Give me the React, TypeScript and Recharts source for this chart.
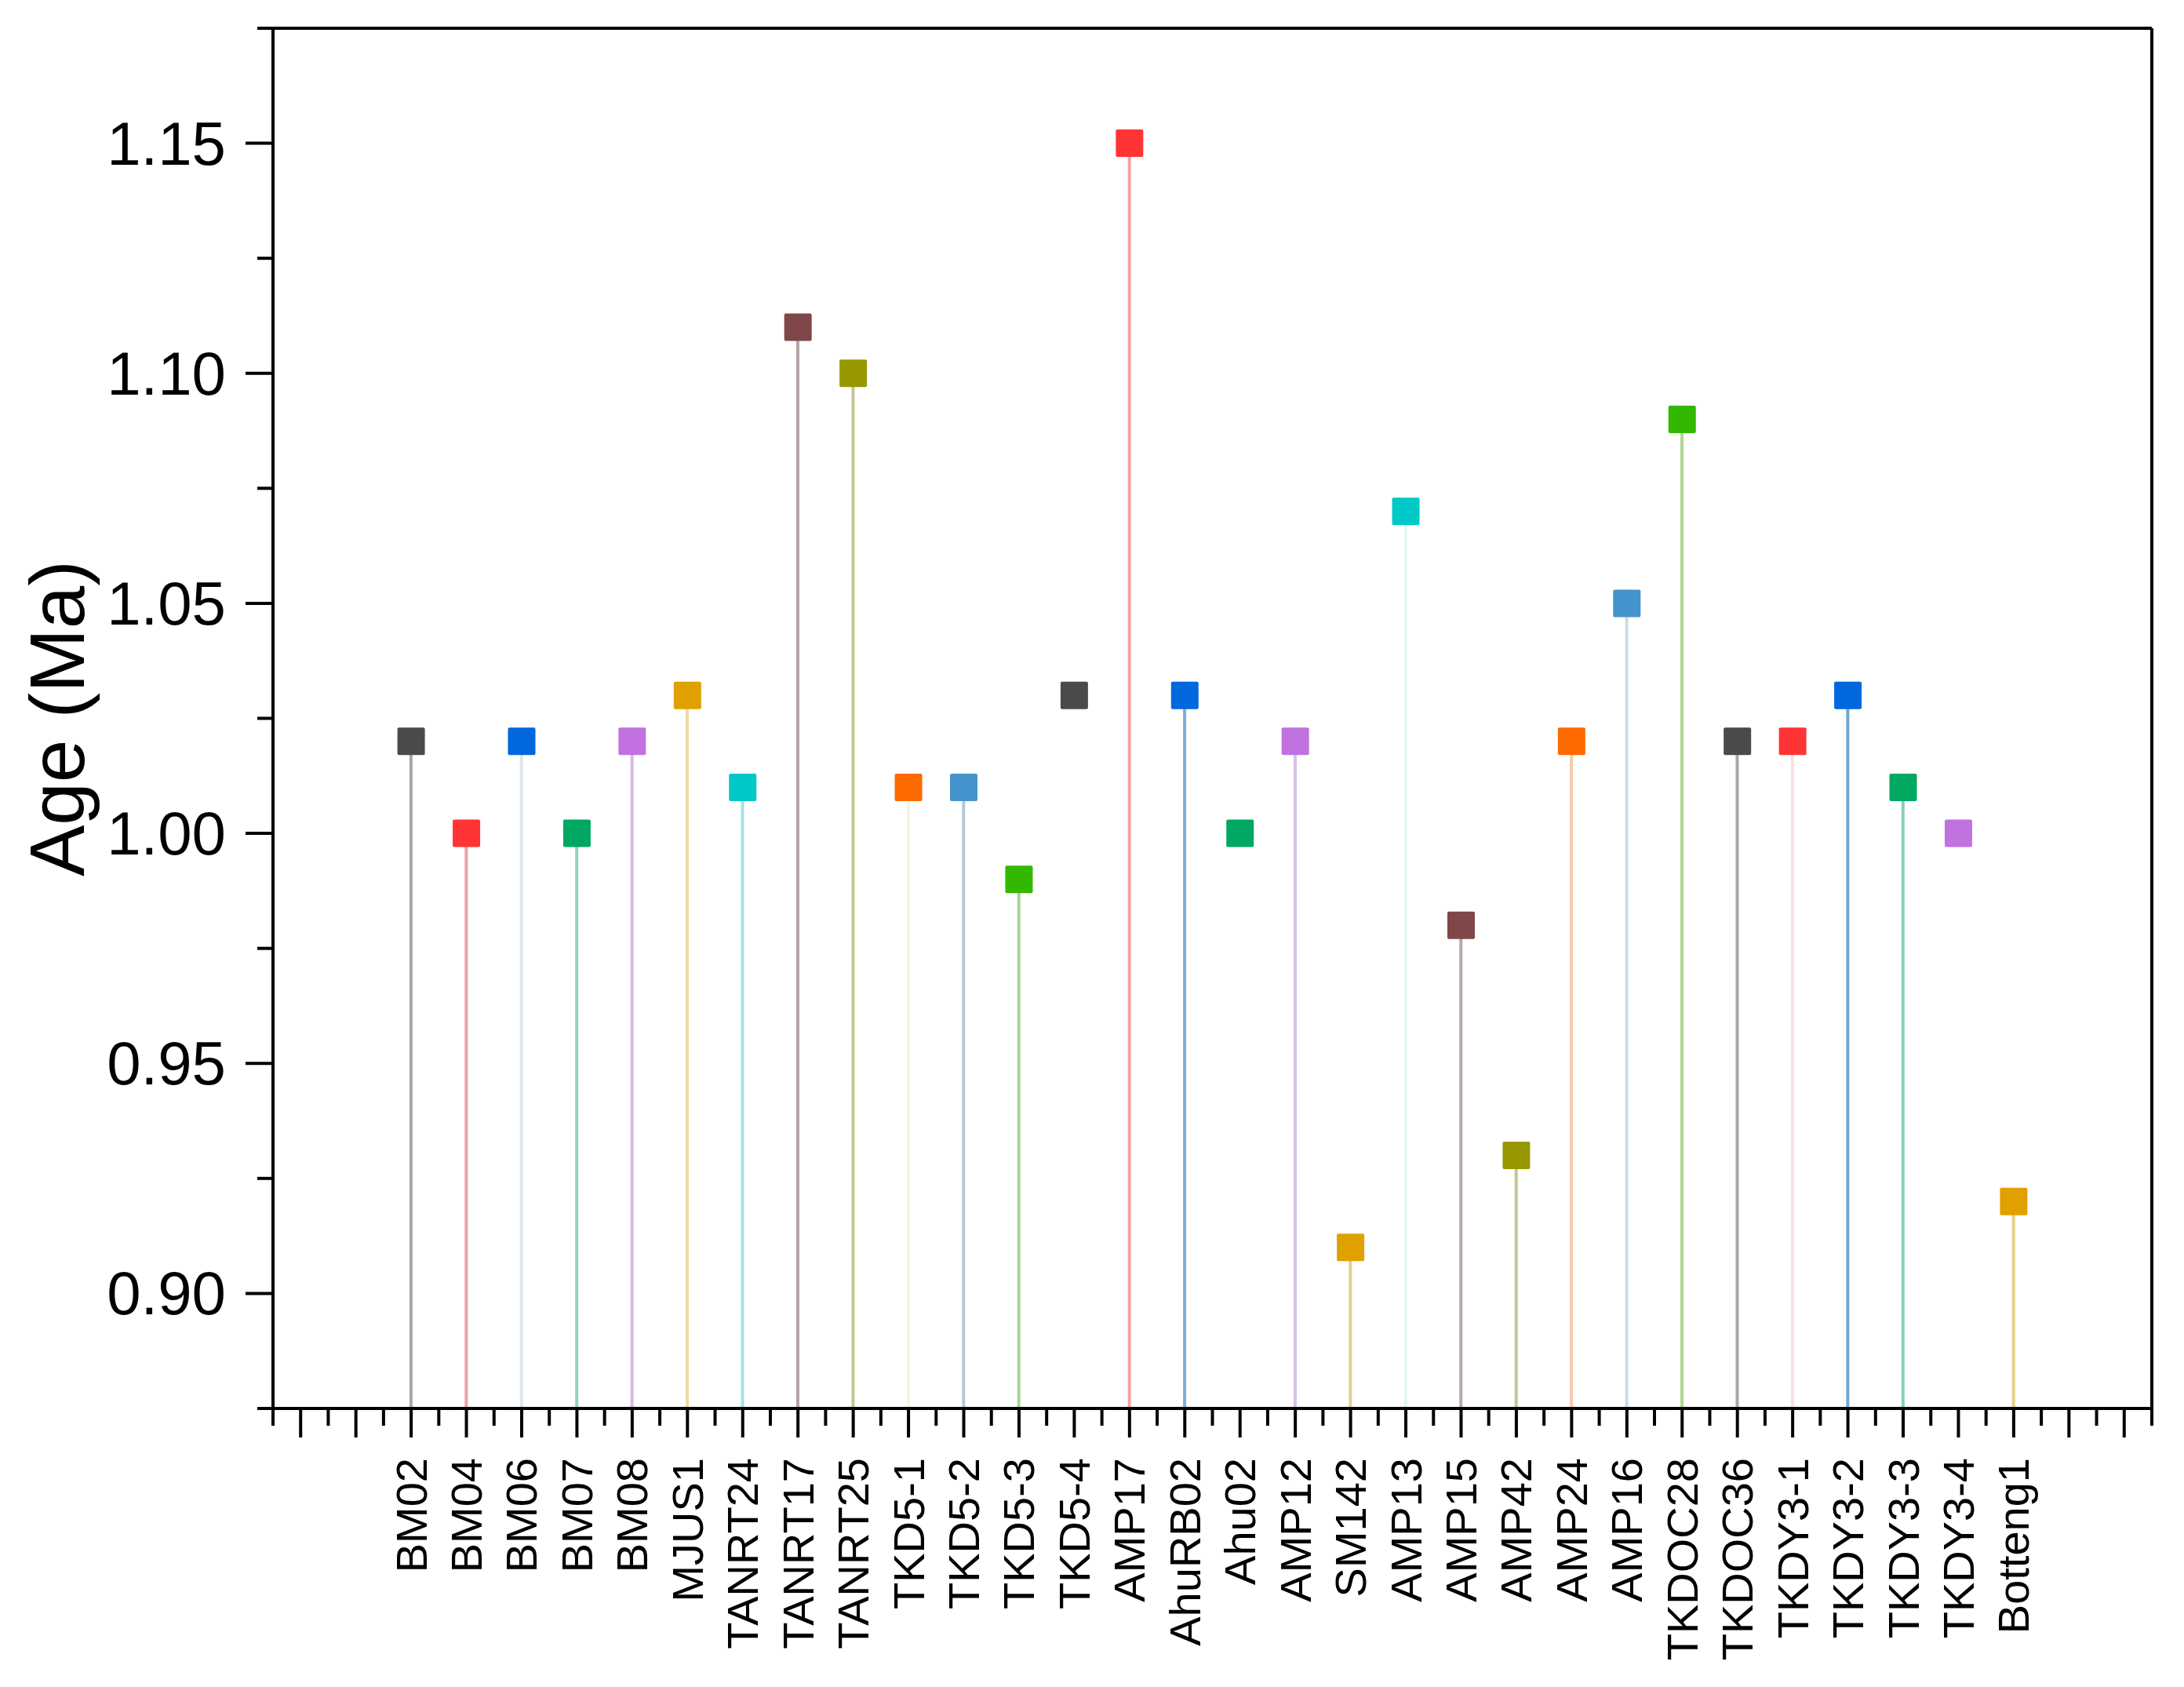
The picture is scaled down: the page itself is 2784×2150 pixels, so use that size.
import React from 'react';
import { ComposedChart, Bar, Scatter, Cell, XAxis, YAxis, ReferenceLine } from 'recharts';

const samples = [
  'BM02', 'BM04', 'BM06', 'BM07', 'BM08', 'MJUS1', 'TANRT24', 'TANRT17', 'TANRT25', 'TKD5-1',
  'TKD5-2', 'TKD5-3', 'TKD5-4', 'AMP17', 'AhuRB02', 'Ahu02', 'AMP12', 'SM142', 'AMP13', 'AMP15',
  'AMP42', 'AMP24', 'AMP16', 'TKDOC28', 'TKDOC36', 'TKDY3-1', 'TKDY3-2', 'TKDY3-3', 'TKDY3-4', 'Botteng1',
];

const ages = [
  1.02, 1.0, 1.02, 1.0, 1.02, 1.03, 1.01, 1.11, 1.1, 1.01,
  1.01, 0.99, 1.03, 1.15, 1.03, 1.0, 1.02, 0.91, 1.07, 0.98,
  0.93, 1.02, 1.05, 1.09, 1.02, 1.02, 1.03, 1.01, 1.0, 0.92,
];

const markerColors = [
  '#4a4a4a', '#ff3535', '#0068dc', '#00a862', '#c172e0', '#e0a000', '#00c8c8', '#7f4747', '#979700', '#ff6a00',
  '#4394cc', '#33b800', '#4a4a4a', '#ff3535', '#0068dc', '#00a862', '#c172e0', '#e0a000', '#00c8c8', '#7f4747',
  '#979700', '#ff6a00', '#4394cc', '#33b800', '#4a4a4a', '#ff3535', '#0068dc', '#00a862', '#c172e0', '#e0a000',
];

const stemColors = [
  '#a8a8a8', '#f0a0a6', '#dde7f1', '#98d2b6', '#dab8e6', '#ebdba0', '#a2e4e4', '#b6a2a6', '#c6c68e', '#fcf1e6',
  '#b0c8dc', '#a8d690', '#ffffff', '#f0a4a4', '#7eaed6', '#ffffff', '#d8c0e4', '#e2cf8e', '#e4f5f5', '#b8a8ac',
  '#c6c68e', '#f7c9ab', '#c8dcec', '#b0d690', '#a8a8a8', '#fae0e0', '#70a8d8', '#88cfb8', '#ffffff', '#e2cf88',
];

const yMajor = [0.9, 0.95, 1.0, 1.05, 1.1, 1.15];
const yMinor = [0.875, 0.925, 0.975, 1.025, 1.075, 1.125, 1.175];

const data = samples.map((name, i) => ({ pos: i + 1, name, age: ages[i] }));

const xTicks: number[] = [];
for (let t = -1.5; t <= 32.5; t += 0.5) xTicks.push(t);
const yTicks = [...yMajor, ...yMinor].sort((a, b) => a - b);

const FONT = '"Liberation Sans", Arial, sans-serif';

function XTick(props: any) {
  const { x, y, payload } = props;
  const v = payload.value;
  const major = Number.isInteger(v);
  const name = major ? samples[v - 1] : undefined;
  const ty = y + 63;
  return (
    <g>
      <line x1={x} x2={x} y1={y} y2={y + (major ? 37 : 22)} stroke="#000" strokeWidth={4} />
      {name && (
        <text
          x={x}
          y={ty}
          transform={`rotate(-90 ${x} ${ty})`}
          textAnchor="end"
          dominantBaseline="central"
          fontSize={56}
          fontFamily={FONT}
          fill="#000"
        >
          {name}
        </text>
      )}
    </g>
  );
}

function YTick(props: any) {
  const { x, y, payload } = props;
  const v = payload.value;
  const major = yMajor.some((m) => Math.abs(m - v) < 1e-9);
  return (
    <g>
      <line x1={x} x2={x - (major ? 35 : 20)} y1={y} y2={y} stroke="#000" strokeWidth={4} />
      {major && (
        <text x={x - 60} y={y} textAnchor="end" dominantBaseline="central" fontSize={78} fontFamily={FONT} fill="#000">
          {v.toFixed(2)}
        </text>
      )}
    </g>
  );
}

function YLabel(props: any) {
  const vb = props.viewBox || { y: 36, height: 1759 };
  const cx = 107;
  const cy = vb.y + vb.height / 2;
  return (
    <text x={cx} y={cy} transform={`rotate(-90 ${cx} ${cy})`} textAnchor="middle" fontSize={98} fontFamily={FONT} fill="#000">
      Age (Ma)
    </text>
  );
}

function Square(props: any) {
  const { cx, cy, fill } = props;
  if (cx == null || cy == null) return null;
  const s = 35;
  return <rect x={cx - s / 2} y={cy - s / 2} width={s} height={s} rx={2} fill={fill} />;
}

export default function App() {
  return (
    <div style={{ position: 'absolute', left: 0, top: 0, background: '#fff' }}>
      <ComposedChart width={2784} height={2150} data={data} margin={{ top: 36, right: 41, bottom: 0, left: 0 }}>
        <XAxis
          dataKey="pos"
          type="number"
          domain={[-1.5, 32.5]}
          ticks={xTicks}
          interval={0}
          height={355}
          tickSize={0}
          tickMargin={0}
          tickLine={false}
          tick={<XTick />}
          axisLine={{ stroke: '#000', strokeWidth: 4 }}
          allowDataOverflow
        />
        <YAxis
          type="number"
          domain={[0.875, 1.175]}
          ticks={yTicks}
          interval={0}
          width={348}
          tickSize={0}
          tickMargin={0}
          tickLine={false}
          tick={<YTick />}
          axisLine={{ stroke: '#000', strokeWidth: 4 }}
          label={<YLabel />}
          allowDataOverflow
        />
        <ReferenceLine y={1.175} stroke="#000" strokeWidth={4} ifOverflow="visible" />
        <ReferenceLine x={32.5} stroke="#000" strokeWidth={4} ifOverflow="visible" />
        <Bar dataKey="age" barSize={4} isAnimationActive={false}>
          {data.map((d, i) => (
            <Cell key={d.name} fill={stemColors[i]} />
          ))}
        </Bar>
        <Scatter dataKey="age" shape={<Square />} isAnimationActive={false}>
          {data.map((d, i) => (
            <Cell key={d.name} fill={markerColors[i]} />
          ))}
        </Scatter>
      </ComposedChart>
    </div>
  );
}
